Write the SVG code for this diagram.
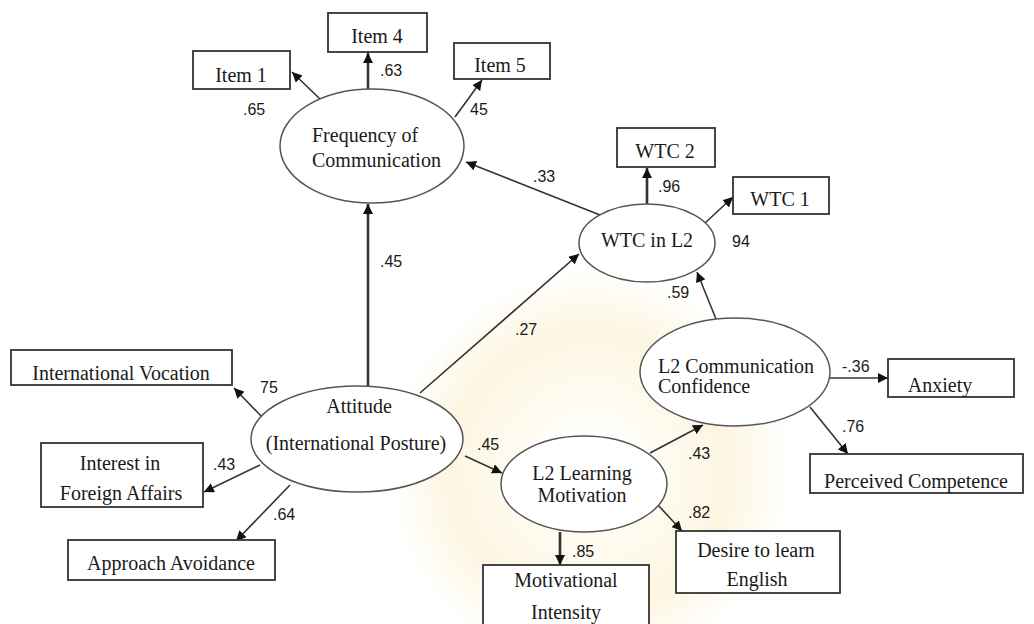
<svg xmlns="http://www.w3.org/2000/svg" width="1034" height="624" viewBox="0 0 1034 624">
<style>
.box{fill:#fff;stroke:#333;stroke-width:1.8}
.ell{fill:#fff;stroke:#555;stroke-width:1.5}
.t{font-family:"Liberation Serif","Times New Roman",serif;font-size:20px;fill:#1a1a1a}
.c{text-anchor:middle}
.n{font-family:"Liberation Sans",Arial,sans-serif;font-size:16px;fill:#1a1a1a}
.ln{stroke:#333;stroke-width:1.6;fill:none;marker-end:url(#ah)}
.thick{stroke-width:2.6}
</style>
<defs>
<marker id="ah" markerUnits="userSpaceOnUse" markerWidth="12" markerHeight="10" refX="10" refY="5" orient="auto">
<path d="M0,0 L10,5 L0,10 z" fill="#111"/>
</marker>
<radialGradient id="wm" cx="0.5" cy="0.5" r="0.5">
<stop offset="0" stop-color="#ffffff" stop-opacity="0"/>
<stop offset="0.35" stop-color="#fbeec6" stop-opacity="0.25"/>
<stop offset="0.7" stop-color="#f7e3a8" stop-opacity="0.35"/>
<stop offset="1" stop-color="#f7e3a8" stop-opacity="0"/>
</radialGradient>
</defs>
<rect width="1034" height="624" fill="#fff"/>
<circle cx="590" cy="470" r="200" fill="url(#wm)"/>

<g id="connectors">
<line class="ln" x1="320" y1="99" x2="292" y2="72"/>
<line class="ln thick" x1="368" y1="89" x2="368" y2="53"/>
<line class="ln" x1="455" y1="117" x2="482" y2="80"/>
<line class="ln" x1="600" y1="215" x2="466" y2="162"/>
<line class="ln thick" x1="368" y1="387" x2="368" y2="204"/>
<line class="ln" x1="420" y1="393" x2="579" y2="254"/>
<line class="ln thick" x1="647" y1="204" x2="647" y2="168"/>
<line class="ln" x1="705" y1="223" x2="733" y2="197"/>
<line class="ln" x1="716" y1="319" x2="697" y2="272"/>
<line class="ln" x1="262" y1="417" x2="234" y2="388"/>
<line class="ln" x1="260" y1="465" x2="204" y2="492"/>
<line class="ln" x1="290" y1="485" x2="236" y2="541"/>
<line class="ln" x1="465" y1="456" x2="502" y2="473"/>
<line class="ln thick" x1="560" y1="532" x2="560" y2="565"/>
<line class="ln" x1="658" y1="505" x2="682" y2="531"/>
<line class="ln" x1="650" y1="453" x2="703" y2="425"/>
<line class="ln" x1="830" y1="378" x2="888" y2="378"/>
<line class="ln" x1="810" y1="407" x2="848" y2="454"/>
</g>

<g id="labels">
<text class="n" x="243" y="115">.65</text>
<text class="n" x="380" y="76">.63</text>
<text class="n" x="470" y="115">45</text>
<text class="n" x="533" y="182">.33</text>
<text class="n" x="658" y="192">.96</text>
<text class="n" x="732" y="247">94</text>
<text class="n" x="380" y="267">.45</text>
<text class="n" x="515" y="335">.27</text>
<text class="n" x="667" y="298">.59</text>
<text class="n" x="260" y="393">75</text>
<text class="n" x="213" y="470">.43</text>
<text class="n" x="273" y="520">.64</text>
<text class="n" x="477" y="450">.45</text>
<text class="n" x="688" y="459">.43</text>
<text class="n" x="842" y="372">-.36</text>
<text class="n" x="842" y="432">.76</text>
<text class="n" x="572" y="557">.85</text>
<text class="n" x="688" y="518">.82</text>
</g>

<g id="item1"><rect class="box" x="193" y="51" width="97" height="38"/><text class="t c" x="241" y="82">Item 1</text></g>
<g id="item4"><rect class="box" x="328" y="13" width="99" height="39"/><text class="t c" x="377" y="43">Item 4</text></g>
<g id="item5"><rect class="box" x="454" y="43" width="96" height="36"/><text class="t c" x="500" y="72">Item 5</text></g>
<g id="frequency"><ellipse class="ell" cx="372" cy="146" rx="92" ry="57"/><text class="t" x="312" y="142">Frequency of</text><text class="t" x="312" y="167">Communication</text></g>
<g id="wtc2"><rect class="box" x="617" y="128" width="98" height="39"/><text class="t c" x="665" y="158">WTC 2</text></g>
<g id="wtc1"><rect class="box" x="733" y="177" width="96" height="37"/><text class="t c" x="780" y="206">WTC 1</text></g>
<g id="wtc"><ellipse class="ell" cx="647" cy="243" rx="68" ry="39"/><text class="t c" x="647" y="247">WTC in L2</text></g>
<g id="intvoc"><rect class="box" x="11" y="350" width="221" height="35"/><text class="t c" x="121" y="380">International Vocation</text></g>
<g id="interest"><rect class="box" x="41" y="443" width="162" height="64"/><text class="t c" x="120" y="470">Interest in</text><text class="t c" x="121" y="500">Foreign Affairs</text></g>
<g id="approach"><rect class="box" x="68" y="540" width="207" height="40"/><text class="t c" x="171" y="570">Approach Avoidance</text></g>
<g id="attitude"><ellipse class="ell" cx="357" cy="439" rx="106" ry="53"/><text class="t c" x="359" y="413">Attitude</text><text class="t c" x="356" y="450">(International Posture)</text></g>
<g id="motivation"><ellipse class="ell" cx="584" cy="484" rx="83" ry="48"/><text class="t c" x="582" y="480">L2 Learning</text><text class="t c" x="582" y="502">Motivation</text></g>
<g id="intensity"><rect class="box" x="483" y="565" width="166" height="70"/><text class="t c" x="566" y="587">Motivational</text><text class="t c" x="566" y="619">Intensity</text></g>
<g id="desire"><rect class="box" x="676" y="531" width="164" height="62"/><text class="t c" x="756" y="557">Desire to learn</text><text class="t c" x="757" y="586">English</text></g>
<g id="confidence"><ellipse class="ell" cx="735" cy="372" rx="95" ry="54"/><text class="t" x="658" y="373">L2 Communication</text><text class="t" x="658" y="393">Confidence</text></g>
<g id="anxiety"><rect class="box" x="888" y="359" width="126" height="38"/><text class="t c" x="940" y="392">Anxiety</text></g>
<g id="perceived"><rect class="box" x="810" y="454" width="213" height="39"/><text class="t c" x="916" y="488">Perceived Competence</text></g>
</svg>
